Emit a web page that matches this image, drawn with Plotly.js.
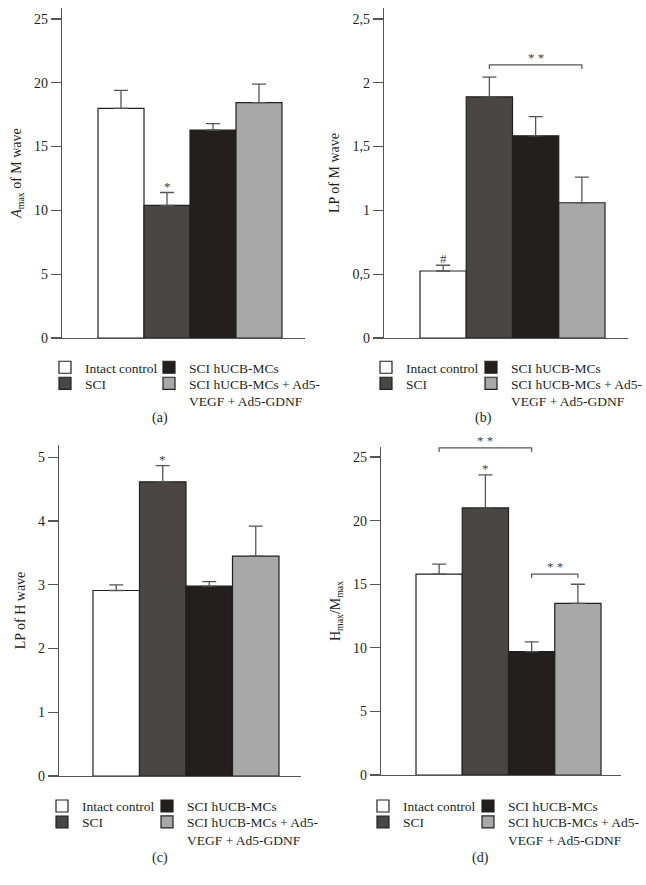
<!DOCTYPE html>
<html><head><meta charset="utf-8">
<script src="https://cdn.plot.ly/plotly-3.0.1.min.js"></script>
<style>html,body{margin:0;padding:0;background:#fff}</style>
</head><body><div id="chart" style="width:646px;height:885px"></div>
<script>
// ---- data ----
const groups = ['Intact control', 'SCI', 'SCI hUCB-MCs', 'SCI hUCB-MCs + Ad5-<br>VEGF + Ad5-GDNF'];
const groupColors = ['#ffffff', '#4a4646', '#231f1e', '#a8a8a8'];
const ampM = [18.0, 10.4, 16.3, 18.45];
const ampMErr = [1.4, 1.0, 0.5, 1.45];
const lpM = [0.525, 1.89, 1.585, 1.06];
const lpMErr = [0.045, 0.155, 0.15, 0.2];
const lpH = [2.91, 4.615, 2.98, 3.45];
const lpHErr = [0.09, 0.255, 0.07, 0.47];
const hmRatio = [15.8, 21.0, 9.7, 13.5];
const hmRatioErr = [0.78, 2.6, 0.76, 1.5];
const panelLabels = ['(a)', '(b)', '(c)', '(d)'];
const yTitles = ['<i>A</i><sub>max</sub> of M wave', 'LP of M wave', 'LP of H wave', 'H<sub>max</sub>/M<sub>max</sub>'];
const yTickVals = [[0,5,10,15,20,25],[0,0.5,1,1.5,2,2.5],[0,1,2,3,4,5],[0,5,10,15,20,25]];
// significance marks: [panel, bar index, text]
const starMarks = [[0,1,'*'],[1,0,'#'],[2,1,'*'],[3,1,'*']];
// brackets: [panel, from bar, to bar, level, text]
const brackets = [[1,1,3,2.14,'* *'],[3,0,2,25.72,'* *'],[3,2,3,15.8,'* *']];

const values = [ampM, lpM, lpH, hmRatio];
const errs = [ampMErr, lpMErr, lpHErr, hmRatioErr];

// ---- layout geometry ----
const W = 646, H = 885;
const px = v => v / W;
const py = v => 1 - v / H;
const panels = [
  {x:[62,305], y:[8,338], xr:[-1.283,4.0], yr:[0,25.86], leg:[85,189], rows:[367,383], lab:[160,418]},
  {x:[384,628], y:[8,338], xr:[-1.278,3.997], yr:[0,2.586], leg:[406,511], rows:[367,383], lab:[483,418]},
  {x:[59,301], y:[445,776], xr:[-1.231,3.973], yr:[0,5.193], leg:[82,187], rows:[805.7,821.7], lab:[160,858]},
  {x:[381,621], y:[447,775], xr:[-1.257,3.932], yr:[0,25.79], leg:[403,508], rows:[805.7,821.7], lab:[480,858]}
];

const FONT = '"Liberation Serif", "Times New Roman", serif';
const TXT = '#231f20';
const AX = '#555555';

const traces = [];
const layout = {
  width: W, height: H,
  margin: {l:0, r:0, t:0, b:0, autoexpand: false},
  paper_bgcolor: '#fff', plot_bgcolor: 'rgba(0,0,0,0)',
  separators: ',.',
  barmode: 'overlay',
  font: {family: FONT, size: 13, color: TXT},
  showlegend: true,
  annotations: [],
  shapes: []
};

panels.forEach((p, k) => {
  const sfx = k === 0 ? '' : String(k + 1);
  const xa = 'x' + sfx, ya = 'y' + sfx;
  layout['xaxis' + sfx] = {
    domain: [px(p.x[0]), px(p.x[1])], range: p.xr, anchor: ya,
    showline: true, linecolor: AX, linewidth: 1.3, showgrid: false, zeroline: false,
    showticklabels: false, ticks: '', fixedrange: true, automargin: false
  };
  layout['yaxis' + sfx] = {
    domain: [py(p.y[1]), py(p.y[0])], range: p.yr, anchor: xa,
    showline: true, linecolor: AX, linewidth: 1.3, showgrid: false, zeroline: false,
    ticks: 'outside', ticklen: 10, tickwidth: 1.3, tickcolor: AX,
    tickvals: yTickVals[k], tickfont: {family: FONT, size: 14, color: TXT},
    title: {text: yTitles[k], font: {family: FONT, size: 14, color: TXT}, standoff: 9},
    fixedrange: true, automargin: false
  };
  groups.forEach((g, i) => {
    const n = k * 4 + i + 1;
    const legName = n === 1 ? 'legend' : 'legend' + n;
    traces.push({
      type: 'bar', name: g, x: [i], y: [values[k][i]], width: [1],
      xaxis: xa, yaxis: ya, legend: legName, showlegend: true,
      marker: {color: groupColors[i], line: {color: '#231f20', width: 1.2}},
      error_y: {type: 'data', array: [errs[k][i]], arrayminus: [0], symmetric: false,
                color: AX, thickness: 1.3, width: 7},
      hoverinfo: 'skip'
    });
    const col = Math.floor(i / 2), row = i % 2;
    layout[legName] = {
      x: px(p.leg[col] - 40), y: py(p.rows[row] - 15), xanchor: 'left', yanchor: 'top',
      bgcolor: 'rgba(0,0,0,0)', borderwidth: 0, valign: 'top',
      font: {family: FONT, size: 13.5, color: TXT}, itemclick: false, itemdoubleclick: false
    };
  });
  layout.annotations.push({
    xref: 'paper', yref: 'paper', x: px(p.lab[0]), y: py(p.lab[1]),
    xanchor: 'center', yanchor: 'middle', text: panelLabels[k], showarrow: false,
    font: {family: FONT, size: 14, color: TXT}
  });
});

starMarks.forEach(([k, i, t]) => {
  const sfx = k === 0 ? '' : String(k + 1);
  layout.annotations.push({
    xref: 'x' + sfx, yref: 'y' + sfx, x: i, y: values[k][i] + errs[k][i],
    yanchor: 'bottom', yshift: -3, text: t, showarrow: false,
    font: {family: FONT, size: 13, color: '#444444'}
  });
});

brackets.forEach(([k, a, b, lvl, t]) => {
  const sfx = k === 0 ? '' : String(k + 1);
  const drop = (panels[k].yr[1] - panels[k].yr[0]) * 4 / (panels[k].y[1] - panels[k].y[0]);
  layout.shapes.push({
    type: 'path', xref: 'x' + sfx, yref: 'y' + sfx,
    path: `M ${a},${lvl - drop} L ${a},${lvl} L ${b},${lvl} L ${b},${lvl - drop}`,
    line: {color: AX, width: 1.2}
  });
  layout.annotations.push({
    xref: 'x' + sfx, yref: 'y' + sfx, x: (a + b) / 2, y: lvl,
    yanchor: 'bottom', yshift: -2, text: t, showarrow: false,
    font: {family: FONT, size: 13, color: '#444444'}
  });
});

Plotly.newPlot('chart', traces, layout, {displayModeBar: false, staticPlot: true});
</script>
</body></html>
